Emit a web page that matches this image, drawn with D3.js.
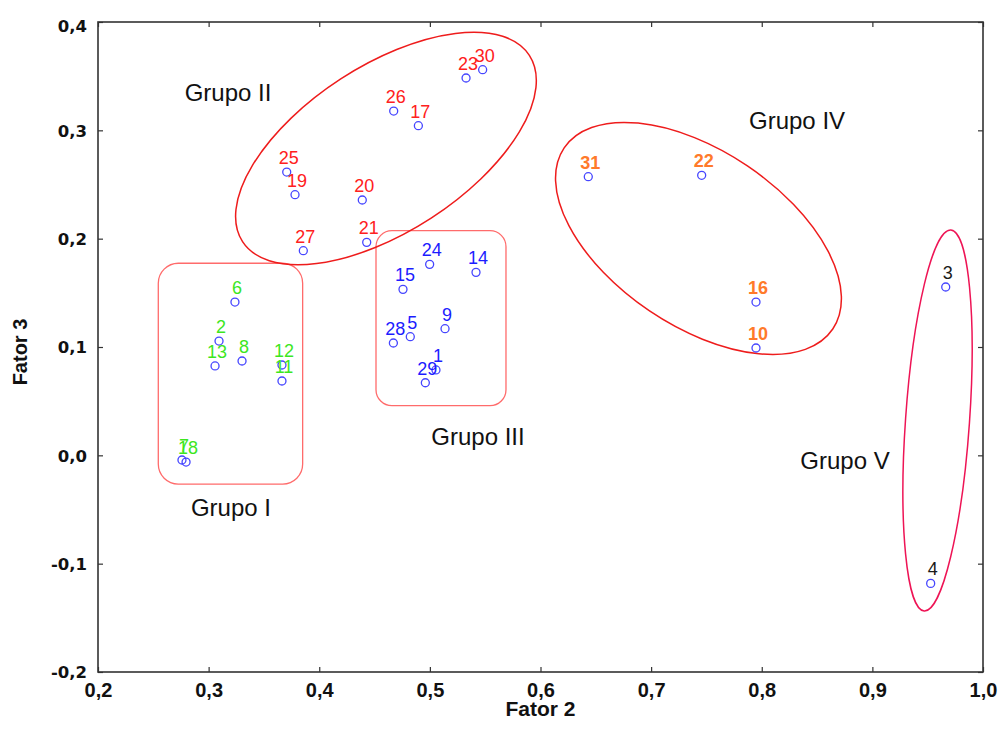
<!DOCTYPE html>
<html>
<head>
<meta charset="utf-8">
<script src="https://cdn.jsdelivr.net/npm/d3@7"></script>
<style>
  html, body { margin: 0; padding: 0; background: #fff; }
  svg { display: block; }
</style>
</head>
<body>
<svg id="chart" width="1002" height="742"></svg>
<script>
// Factor scores (Fator 2 vs Fator 3) for the 31 samples
const pointIds = [1, 2, 3, 4, 5, 6, 7, 8, 9, 10, 11, 12, 13, 14, 15, 16,
                  17, 18, 19, 20, 21, 22, 23, 24, 25, 26, 27, 28, 29, 30, 31];
const fator2 = [0.5055, 0.3094, 0.9663, 0.9527, 0.4823, 0.3238, 0.2759, 0.3302,
                0.5137, 0.7948, 0.3663, 0.3663, 0.3058, 0.5417, 0.4757, 0.7948,
                0.4896, 0.2796, 0.3781, 0.4389, 0.4429, 0.7457, 0.5327, 0.4998,
                0.3706, 0.4673, 0.3856, 0.4670, 0.4959, 0.5477, 0.6432];
const fator3 = [0.0788, 0.1055, 0.1554, -0.1182, 0.1095, 0.1415, -0.0043, 0.0871,
                0.1169, 0.0991, 0.0686, 0.0834, 0.0825, 0.1689, 0.1532, 0.1415,
                0.3043, -0.0062, 0.2406, 0.2357, 0.1966, 0.2585, 0.3483, 0.1763,
                0.2615, 0.3178, 0.1889, 0.1037, 0.0670, 0.3560, 0.2572];
const grupo = ["III", "I", "V", "V", "III", "I", "I", "I",
               "III", "IV", "I", "I", "I", "III", "III", "IV",
               "II", "I", "II", "II", "II", "IV", "II", "III",
               "II", "II", "II", "III", "III", "II", "IV"];

const xTicks = [0.2, 0.3, 0.4, 0.5, 0.6, 0.7, 0.8, 0.9, 1.0];
const yTicks = [-0.2, -0.1, 0.0, 0.1, 0.2, 0.3, 0.4];

// Group outlines, in factor units
const groupBoxes = [
  { name: "I",   x0: 0.2545, x1: 0.3850, y0: -0.0265, y1: 0.1773, r: 20 },
  { name: "III", x0: 0.4513, x1: 0.5688, y0: 0.0458,  y1: 0.2074, r: 16 }
];
const groupEllipses = [
  { name: "II", cx: 0.4603, cy: 0.2832, rx: 171, ry: 83,  angle: -33, color: "#ee1c1c" },
  { name: "IV", cx: 0.7428, cy: 0.2002, rx: 162, ry: 87.5, angle: 34, color: "#ee1c1c" },
  { name: "V",  cx: 0.9589, cy: 0.0322, rx: 32,  ry: 191, angle: 4,  color: "#ee1455" }
];
const groupTitles = [
  { text: "Grupo I",   x: 0.3202, y: -0.0486 },
  { text: "Grupo II",  x: 0.3175, y: 0.3345 },
  { text: "Grupo III", x: 0.5435, y: 0.0169 },
  { text: "Grupo IV",  x: 0.8319, y: 0.3086 },
  { text: "Grupo V",   x: 0.8753, y: -0.0052 }
];

const labelColor = { I: "#3ce61e", II: "#ff2020", III: "#1c1cff", IV: "#ff7a2a", V: "#1a1a1a" };
const labelWeight = { I: "normal", II: "normal", III: "normal", IV: "bold", V: "normal" };

const svg = d3.select("#chart");
const plotLeft = 98, plotRight = 983, plotTop = 22, plotBottom = 672;

const x = d3.scaleLinear().domain([0.2, 1.0]).range([plotLeft, plotRight]);
const y = d3.scaleLinear().domain([-0.2, 0.4]).range([plotBottom, plotTop]);

// Decimal comma and a plain hyphen for negatives
const ptBr = d3.formatLocale({ decimal: ",", thousands: ".", grouping: [3], currency: ["", ""], minus: "-" });
const fmt = ptBr.format(".1f");

svg.append("rect").attr("width", 1002).attr("height", 742).attr("fill", "#fff");

// Axes with inward ticks on all four sides
const gx = svg.append("g").attr("transform", `translate(0,${plotBottom})`)
  .call(d3.axisBottom(x).tickValues(xTicks).tickSize(-5).tickPadding(11).tickFormat(fmt));
const gy = svg.append("g").attr("transform", `translate(${plotLeft},0)`)
  .call(d3.axisLeft(y).tickValues(yTicks).tickSize(-5).tickPadding(11).tickFormat(fmt));
svg.append("g").attr("transform", `translate(0,${plotTop})`)
  .call(d3.axisTop(x).tickValues(xTicks).tickSize(-5).tickFormat(""));
svg.append("g").attr("transform", `translate(${plotRight},0)`)
  .call(d3.axisRight(y).tickValues(yTicks).tickSize(-5).tickFormat(""));

svg.selectAll(".domain").remove();
svg.selectAll(".tick line").attr("stroke", "#333").attr("stroke-width", 1.2);

gx.selectAll("text")
  .attr("fill", "#111")
  .style("font-family", "'Liberation Sans', Arial, sans-serif")
  .style("font-weight", "bold")
  .style("font-size", "20px");
gy.selectAll("text")
  .attr("fill", "#111")
  .style("font-family", "'DejaVu Sans', sans-serif")
  .style("font-weight", "bold")
  .style("font-size", "16.5px")
  .attr("dy", d => d === 0.4 ? "0.6em" : "0.36em");

// Plot frame
svg.append("rect")
  .attr("x", plotLeft).attr("y", plotTop)
  .attr("width", plotRight - plotLeft).attr("height", plotBottom - plotTop)
  .attr("fill", "none").attr("stroke", "#333").attr("stroke-width", 1.6);

// Axis titles
svg.append("text")
  .attr("x", (plotLeft + plotRight) / 2).attr("y", 716)
  .attr("text-anchor", "middle")
  .style("font-family", "'Liberation Sans', Arial, sans-serif")
  .style("font-weight", "bold").style("font-size", "21px")
  .attr("fill", "#111").text("Fator 2");
svg.append("text")
  .attr("transform", `translate(27,${(plotTop + plotBottom) / 2 + 5}) rotate(-90)`)
  .attr("text-anchor", "middle")
  .style("font-family", "'Liberation Sans', Arial, sans-serif")
  .style("font-weight", "bold").style("font-size", "20px")
  .attr("fill", "#111").text("Fator 3");

// Group outlines
svg.append("g").selectAll("rect").data(groupBoxes).join("rect")
  .attr("x", d => x(d.x0)).attr("y", d => y(d.y1))
  .attr("width", d => x(d.x1) - x(d.x0)).attr("height", d => y(d.y0) - y(d.y1))
  .attr("rx", d => d.r).attr("ry", d => d.r)
  .attr("fill", "none").attr("stroke", "#ff6b6b").attr("stroke-width", 1.3);

svg.append("g").selectAll("ellipse").data(groupEllipses).join("ellipse")
  .attr("transform", d => `translate(${x(d.cx)},${y(d.cy)}) rotate(${d.angle})`)
  .attr("rx", d => d.rx).attr("ry", d => d.ry)
  .attr("fill", "none").attr("stroke", d => d.color).attr("stroke-width", 1.5);

svg.append("g").selectAll("text").data(groupTitles).join("text")
  .attr("x", d => x(d.x)).attr("y", d => y(d.y))
  .attr("dy", "0.35em")
  .attr("text-anchor", "middle")
  .style("font-family", "'Liberation Sans', Arial, sans-serif")
  .style("font-size", "24px")
  .attr("fill", "#111")
  .text(d => d.text);

// Points
const points = pointIds.map((id, i) => ({ id, f2: fator2[i], f3: fator3[i], g: grupo[i] }));

svg.append("g").selectAll("circle").data(points).join("circle")
  .attr("cx", d => x(d.f2)).attr("cy", d => y(d.f3)).attr("r", 4)
  .attr("fill", "none").attr("stroke", "#4545ff").attr("stroke-width", 1.3);

svg.append("g").selectAll("text").data(points).join("text")
  .attr("x", d => x(d.f2) + 2).attr("y", d => y(d.f3) - 8)
  .attr("text-anchor", "middle")
  .style("font-family", "'Liberation Sans', Arial, sans-serif")
  .style("font-size", "18px")
  .style("font-weight", d => labelWeight[d.g])
  .attr("fill", d => labelColor[d.g])
  .text(d => d.id);
</script>
</body>
</html>
